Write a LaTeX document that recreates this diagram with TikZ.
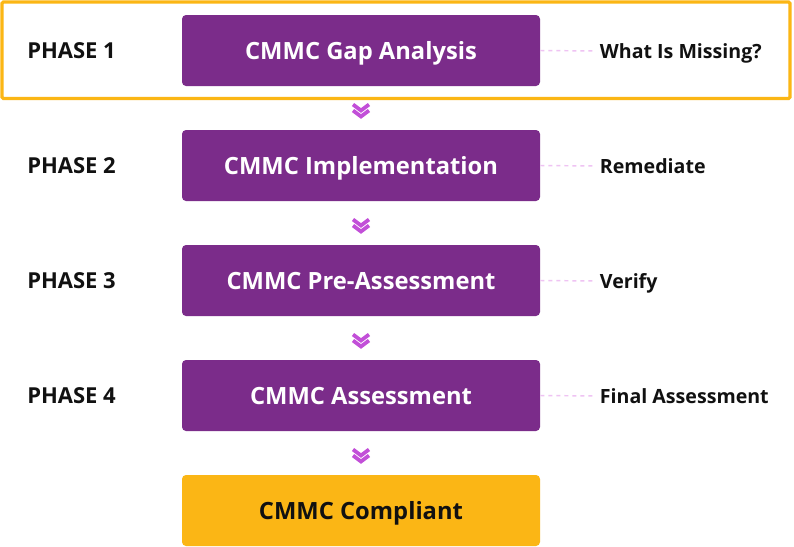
\documentclass[tikz,border=0pt]{standalone}
\usepackage{fontspec}
\setmainfont{Open Sans}
\usetikzlibrary{positioning,calc}
\usepackage{xcolor}
\definecolor{cmmcpurple}{HTML}{7B2C8A}
\definecolor{cmmcorange}{HTML}{FBB615}
\definecolor{chevcol}{HTML}{C24FD8}
\definecolor{linkpink}{HTML}{EFC3F3}
\definecolor{inkblack}{HTML}{111111}

\begin{document}
\begin{tikzpicture}[x=0.75pt,y=-0.75pt,
  stepbox/.style={rounded corners=3pt,minimum width=268.5pt,minimum height=53.25pt,
    inner sep=0pt,text depth=0pt,font=\bfseries\fontsize{17.8}{20}\selectfont},
  phaselabel/.style={anchor=west,inner sep=0pt,text depth=0pt,text=inkblack,font=\bfseries\fontsize{16.5}{19}\selectfont},
  notelabel/.style={anchor=west,inner xsep=3.5pt,inner ysep=0pt,text depth=0pt,text=inkblack,font=\bfseries\fontsize{14.7}{17}\selectfont},
  link/.style={linkpink,line width=1.1pt,dash pattern=on 3pt off 3pt},
  chev/.style={chevcol,line width=2.8pt,miter limit=4}]

  % page
  \fill[white] (0,0) rectangle (794,547);
  \useasboundingbox (0,0) rectangle (794,547);

  % phases
  \foreach \i/\title/\note in {1/CMMC Gap Analysis/What Is Missing?,
                               2/CMMC Implementation/Remediate,
                               3/CMMC Pre-Assessment/Verify,
                               4/CMMC Assessment/Final Assessment} {
    \node[stepbox,fill=cmmcpurple,text=white] (box\i) at (361,{50.5+115*(\i-1)}) {\title};
    \node[phaselabel] (phase\i) at (27,{51+115*(\i-1)}) {PHASE \i};
    \node[notelabel] (note\i) at (595,{51+115*(\i-1)}) {\note};
    \draw[link] (box\i.east) -- (note\i.west);
  }

  % result
  \node[stepbox,fill=cmmcorange,text=inkblack] (box5) at (361,510.5) {CMMC Compliant};

  % highlight of phase 1
  \draw[cmmcorange,line width=2.4pt,rounded corners=1pt] (2,2) rectangle (790,98.5);

  % chevrons between the boxes
  \foreach \i in {1,2,3,4} {
    \pgfmathtruncatemacro{\j}{\i+1}
    \coordinate (chev\i) at ($(box\i.south)!0.5!(box\j.north)+(0,1.5)$);
    \draw[chev] ($(chev\i)+(-8,-5)$) -- ($(chev\i)+(0,1)$) -- ($(chev\i)+(8,-5)$);
    \draw[chev] ($(chev\i)+(-8,1)$) -- ($(chev\i)+(0,7)$) -- ($(chev\i)+(8,1)$);
  }
\end{tikzpicture}
\end{document}
